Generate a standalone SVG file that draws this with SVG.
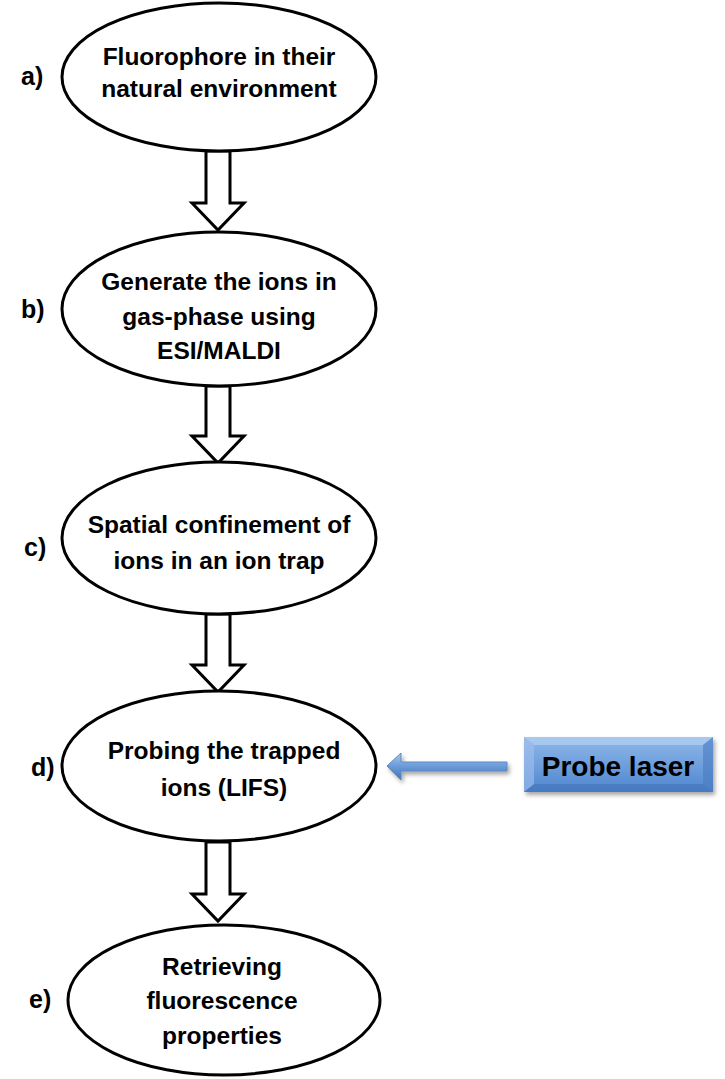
<svg xmlns="http://www.w3.org/2000/svg" width="725" height="1079" viewBox="0 0 725 1079">
<style>
.el{fill:#fff;stroke:#000;stroke-width:3}
.t{font-family:"Liberation Sans",Arial,sans-serif;font-weight:bold;font-size:24.5px;fill:#000;text-anchor:middle}
.lab{font-family:"Liberation Sans",Arial,sans-serif;font-weight:bold;font-size:25px;fill:#000}
.flow{fill:#fff;stroke:#000;stroke-width:3;stroke-linejoin:miter}
</style>
<defs>
<linearGradient id="boxg" x1="0" y1="0" x2="0" y2="1">
<stop offset="0" stop-color="#8fb8ea"/>
<stop offset="1" stop-color="#4f86cf"/>
</linearGradient>
<linearGradient id="arrg" x1="0" y1="0" x2="0" y2="1">
<stop offset="0" stop-color="#a9c7ee"/>
<stop offset="0.5" stop-color="#6a9ad8"/>
<stop offset="1" stop-color="#3f73bc"/>
</linearGradient>
<filter id="sh" x="-10%" y="-20%" width="130%" height="150%">
<feDropShadow dx="2" dy="3" stdDeviation="2" flood-color="#000" flood-opacity="0.35"/>
</filter>
</defs>
<g id="connectors">
<path class="flow" d="M206,151 L230,151 L230,203 L244,203 L218,230 L192,203 L206,203 Z"/>
<path class="flow" d="M206,386 L230,386 L230,436 L244,436 L218,463 L192,436 L206,436 Z"/>
<path class="flow" d="M206,614 L230,614 L230,665 L244,665 L218,692 L192,665 L206,665 Z"/>
<path class="flow" d="M206,842 L230,842 L230,894 L244,894 L218,921 L192,894 L206,894 Z"/>
<path d="M387,766 L401,753 L401,762 L507,762 L507,771 L401,771 L401,780 Z" fill="url(#arrg)" stroke="#5b87c2" stroke-width="1" filter="url(#sh)"/>
</g>
<g id="a">
<ellipse class="el" cx="219" cy="77" rx="157" ry="74"/>
<text class="t" x="219" y="65">Fluorophore in their</text>
<text class="t" x="219" y="97">natural environment</text>
<text class="lab" x="21" y="85">a)</text>
</g>
<g id="b">
<ellipse class="el" cx="219" cy="309" rx="157" ry="77"/>
<text class="t" x="219" y="290">Generate the ions in</text>
<text class="t" x="219" y="325">gas-phase using</text>
<text class="t" x="219" y="359">ESI/MALDI</text>
<text class="lab" x="21" y="318">b)</text>
</g>
<g id="c">
<ellipse class="el" cx="219" cy="538" rx="157" ry="76"/>
<text class="t" x="219" y="533">Spatial confinement of</text>
<text class="t" x="219" y="569">ions in an ion trap</text>
<text class="lab" x="24" y="556">c)</text>
</g>
<g id="d">
<ellipse class="el" cx="219" cy="766" rx="157" ry="75"/>
<text class="t" x="224" y="759">Probing the trapped</text>
<text class="t" x="224" y="796">ions (LIFS)</text>
<text class="lab" x="31" y="776">d)</text>
</g>
<g id="e">
<ellipse class="el" cx="224" cy="1000" rx="156" ry="75"/>
<text class="t" x="222" y="975">Retrieving</text>
<text class="t" x="222" y="1009">fluorescence</text>
<text class="t" x="222" y="1044">properties</text>
<text class="lab" x="29" y="1008">e)</text>
</g>
<g id="probe">
<rect x="524" y="737" width="189" height="55" fill="url(#boxg)" filter="url(#sh)"/>
<path d="M524,737 L713,737 L703,745 L534,745 Z" fill="#b4d0f2" opacity="0.7"/>
<path d="M524,792 L713,792 L703,784 L534,784 Z" fill="#3e6fb3" opacity="0.5"/>
<path d="M524,737 L534,745 L534,784 L524,792 Z" fill="#a3c2ec" opacity="0.6"/>
<path d="M713,737 L703,745 L703,784 L713,792 Z" fill="#4a7bbf" opacity="0.6"/>
<text x="618" y="776" font-family="'Liberation Sans',Arial,sans-serif" font-weight="bold" font-size="28" text-anchor="middle" fill="#000">Probe laser</text>
</g>
</svg>
